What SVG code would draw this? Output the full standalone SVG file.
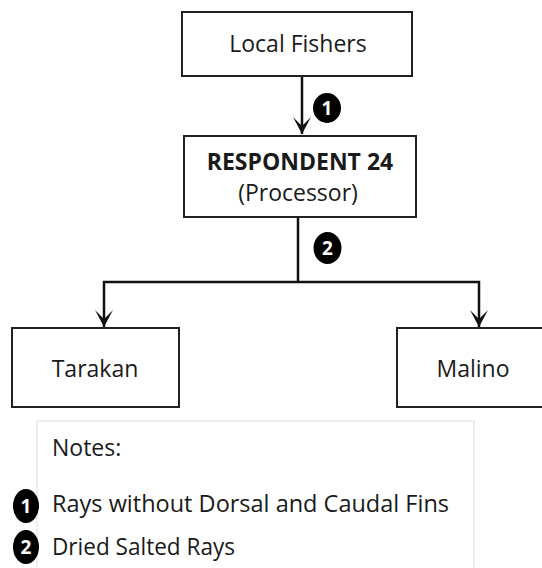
<svg xmlns="http://www.w3.org/2000/svg" width="542" height="568" viewBox="0 0 542 568">
  <style>
    .box { fill: #ffffff; stroke: #222222; stroke-width: 2; }
    .note { fill: #ffffff; stroke: #dddddd; stroke-width: 1; }
    .lbl { font-family: "Open Sans", "Noto Sans", sans-serif; font-size: 23px; fill: #1a1a1a; }
    .bold { font-weight: bold; }
    .wire { fill: none; stroke: #111111; stroke-width: 2.5; }
    .badge { fill: #000000; }
    .num { font-family: "Open Sans", "Noto Sans", sans-serif; font-size: 19px; font-weight: bold; fill: #ffffff; text-anchor: middle; }
  </style>
  <defs>
    <!-- concave arrowhead, tip at the line end -->
    <marker id="arrow" viewBox="-18 -10 19 20" refX="0" refY="0" markerWidth="19" markerHeight="20" markerUnits="userSpaceOnUse" orient="auto-start-reverse">
      <path d="M0,0 L-17,-9 L-8,0 L-17,9 Z" fill="#111111"/>
    </marker>
  </defs>

  <g id="connectors">
    <line class="wire" x1="302" y1="76" x2="302" y2="134" marker-end="url(#arrow)"/>
    <line class="wire" x1="298" y1="217" x2="298" y2="282"/>
    <polyline class="wire" points="104,327 104,282 479,282 479,327" marker-start="url(#arrow)" marker-end="url(#arrow)"/>
    <g id="badge-1">
      <ellipse class="badge" cx="327" cy="108" rx="14" ry="15"/>
      <text class="num" x="327" y="115">1</text>
    </g>
    <g id="badge-2">
      <ellipse class="badge" cx="327.5" cy="248" rx="14" ry="16"/>
      <text class="num" x="327.5" y="255">2</text>
    </g>
  </g>

  <g id="local-fishers">
    <rect class="box" x="182" y="12" width="230" height="64"/>
    <text class="lbl" x="298" y="52" text-anchor="middle">Local Fishers</text>
  </g>

  <g id="respondent-24">
    <rect class="box" x="184" y="136" width="232" height="81"/>
    <text class="lbl bold" x="300" y="170" text-anchor="middle">RESPONDENT 24</text>
    <text class="lbl" x="298" y="201" text-anchor="middle">(Processor)</text>
  </g>

  <g id="tarakan">
    <rect class="box" x="12" y="328" width="167" height="79"/>
    <text class="lbl" x="95" y="377" text-anchor="middle">Tarakan</text>
  </g>

  <g id="malino">
    <rect class="box" x="397" y="328" width="150" height="79"/>
    <text class="lbl" x="473" y="377" text-anchor="middle">Malino</text>
  </g>

  <g id="notes">
    <rect class="note" x="37" y="421" width="437" height="160"/>
    <text class="lbl" x="52" y="456">Notes:</text>
    <ellipse class="badge" cx="26" cy="506" rx="13" ry="17"/>
    <text class="num" x="26" y="513">1</text>
    <text class="lbl" x="52" y="512" textLength="397" lengthAdjust="spacingAndGlyphs">Rays without Dorsal and Caudal Fins</text>
    <ellipse class="badge" cx="26" cy="547" rx="13" ry="17"/>
    <text class="num" x="26" y="554">2</text>
    <text class="lbl" x="52" y="555" textLength="183" lengthAdjust="spacingAndGlyphs">Dried Salted Rays</text>
  </g>
</svg>
